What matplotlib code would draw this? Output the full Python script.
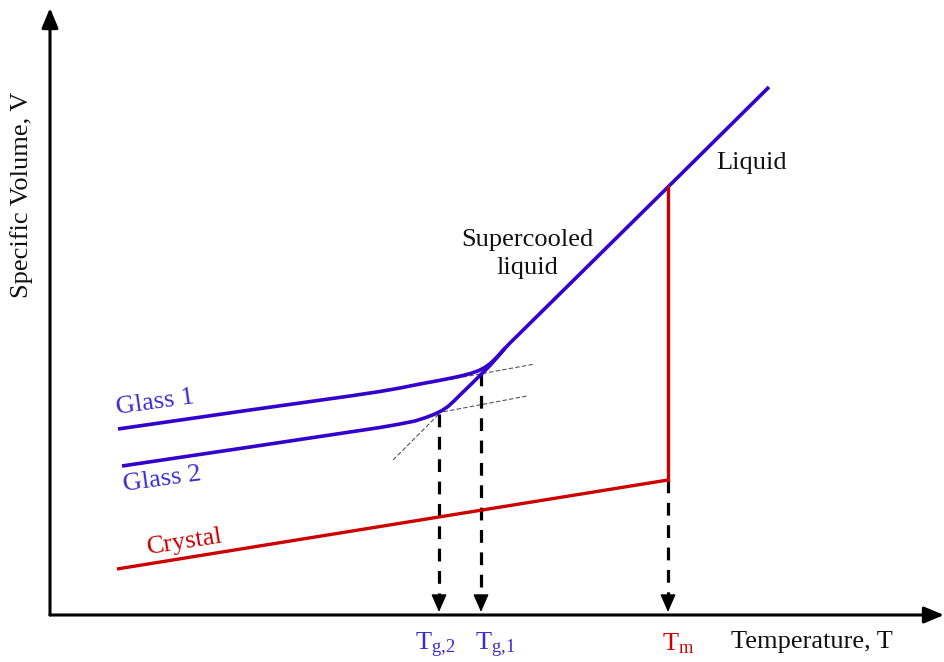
import matplotlib
matplotlib.use("Agg")
import matplotlib.pyplot as plt

plt.rcParams['font.family'] = ['Liberation Serif', 'DejaVu Serif']
plt.rcParams['mathtext.fontset'] = 'custom'
plt.rcParams['mathtext.rm'] = 'Liberation Serif'
plt.rcParams['mathtext.it'] = 'Liberation Serif:italic'

# schematic V-T diagram, arbitrary units
glass1_T = [6.8, 20.0, 30.0, 33.0, 35.0, 37.0, 39.0, 40.3, 41.3, 42.2, 42.9, 43.5,
            44.0, 44.5, 45.0, 45.5, 46.0, 61.8, 71.9]
glass1_V = [18.6, 20.5, 21.9, 22.35, 22.7, 23.1, 23.47, 23.73, 23.95, 24.2, 24.45, 24.77,
            25.13, 25.6, 26.13, 26.68, 27.2, 42.8, 52.8]

glass2_T = [7.2, 20.0, 30.0, 33.0, 35.0, 36.5, 37.6, 38.5, 39.2, 39.8, 40.4, 41.0,
            42.0, 43.1, 44.0, 44.8, 45.5]
glass2_V = [14.9, 16.8, 18.3, 18.75, 19.1, 19.4, 19.75, 20.1, 20.45, 20.85, 21.4, 22.0,
            22.97, 24.05, 24.95, 25.85, 26.68]

crystal_T = [6.7, 61.8]
crystal_V = [4.6, 13.5]

Tm = 61.8
Tm_V = [13.5, 42.8]   # melting jump, crystal -> liquid

Tg1, Tg1_V = 43.1, 24.2
Tg2, Tg2_V = 38.9, 20.1

# thin construction lines (tangents)
tan1_T, tan1_V = [38.0, 48.5], [23.2, 25.1]
tan2_T, tan2_V = [38.7, 47.7], [20.2, 21.9]
tan3_T, tan3_V = [34.3, 39.5], [15.5, 20.7]

blue = '#3300CC'
blue_txt = '#3B2DCC'
red = '#CC0000'

fig = plt.figure(figsize=(9.44, 6.62), dpi=100)
ax = fig.add_axes([0, 0, 1, 1])
ax.set_xlim(-5.0, 89.4)
ax.set_ylim(-4.7, 61.5)
ax.axis('off')

# axes with arrows
ax.annotate('', xy=(89.4, 0), xytext=(0, 0),
            arrowprops=dict(arrowstyle='-|>,head_length=0.6,head_width=0.25',
                            color='black', lw=2.2, shrinkA=0, shrinkB=0, mutation_scale=20))
ax.annotate('', xy=(0, 60.7), xytext=(0, 0),
            arrowprops=dict(arrowstyle='-|>,head_length=0.6,head_width=0.25',
                            color='black', lw=2.2, shrinkA=0, shrinkB=0, mutation_scale=20))

# construction lines
for tt, vv in [(tan1_T, tan1_V), (tan2_T, tan2_V), (tan3_T, tan3_V)]:
    ax.plot(tt, vv, color='#555555', lw=0.8, ls=(0, (4, 2)))

# dashed drop lines with arrowheads
for T0, V0 in [(Tg2, Tg2_V), (Tg1, Tg1_V), (Tm, crystal_V[1])]:
    ax.plot([T0, T0], [V0, 1.2], color='black', lw=2.3, ls=(0, (4, 3)))
    ax.annotate('', xy=(T0, 0.3), xytext=(T0, 1.8),
                arrowprops=dict(arrowstyle='-|>,head_length=0.55,head_width=0.24',
                                color='black', lw=1, shrinkA=0, shrinkB=0, mutation_scale=20))

# curves
ax.plot(glass2_T, glass2_V, color=blue, lw=2.6, solid_capstyle='butt', solid_joinstyle='round')
ax.plot(glass1_T, glass1_V, color=blue, lw=2.6, solid_capstyle='butt', solid_joinstyle='round')
ax.plot(crystal_T, crystal_V, color=red, lw=2.4, solid_capstyle='butt')
ax.plot([Tm, Tm], Tm_V, color=red, lw=2.4)

fs = 19
ax.text(-2.8, 42.0, 'Specific Volume, V', rotation=90, ha='center', va='center',
        fontsize=fs, color='#111111')
ax.text(76.2, -2.7, 'Temperature, T', ha='center', va='center', fontsize=fs, color='#111111')
ax.text(70.2, 45.2, 'Liquid', ha='center', va='center', fontsize=fs, color='#111111')
ax.text(47.7, 36.1, 'Supercooled\nliquid', ha='center', va='center', fontsize=fs,
        color='#111111', linespacing=1.3)
ax.text(10.5, 21.2, 'Glass 1', rotation=8, ha='center', va='center', fontsize=fs, color=blue_txt)
ax.text(11.2, 13.5, 'Glass 2', rotation=8, ha='center', va='center', fontsize=fs, color=blue_txt)
ax.text(13.5, 7.3, 'Crystal', rotation=9, ha='center', va='center', fontsize=fs, color=red)

ax.text(36.5, -3.5, r'$\mathrm{T_{g{,}2}}$', ha='left', va='baseline', fontsize=fs, color=blue_txt)
ax.text(42.5, -3.5, r'$\mathrm{T_{g{,}1}}$', ha='left', va='baseline', fontsize=fs, color=blue_txt)
ax.text(61.2, -3.5, r'$\mathrm{T_{m}}$', ha='left', va='baseline', fontsize=fs, color=red)

fig.savefig('out.png', dpi=100)
